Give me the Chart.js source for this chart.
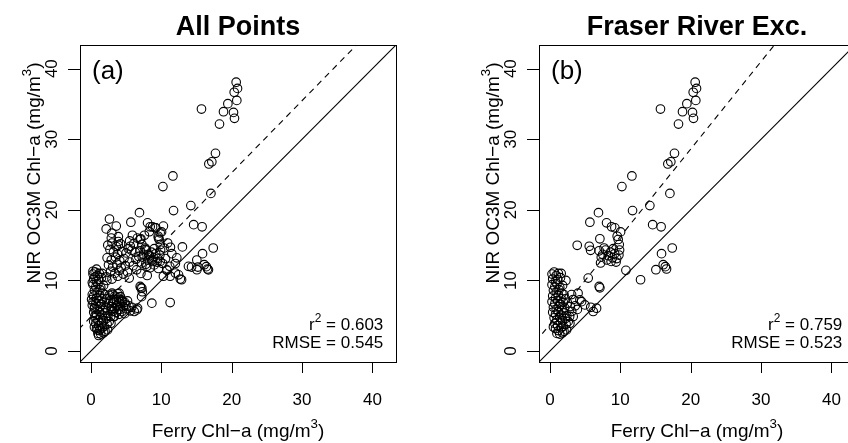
<!DOCTYPE html>
<html>
<head>
<meta charset="utf-8">
<script src="https://cdn.jsdelivr.net/npm/chart.js@4.4.1/dist/chart.umd.min.js"></script>
<style>
  html, body { margin: 0; padding: 0; background: #fff; overflow: hidden; }
  #wrap { position: relative; width: 848px; height: 443px; overflow: hidden; }
  .panel { position: absolute; top: 0; width: 459px; height: 443px; }
</style>
</head>
<body>
<div id="wrap">
  <div class="panel" style="left:0"><canvas id="chartA" width="459" height="443"></canvas></div>
  <div class="panel" style="left:459px"><canvas id="chartB" width="459" height="443"></canvas></div>
</div>
<script>
// points outside the Fraser River plume (shown in both panels)
let otherX = [
  15.71, 20.64, 20.83, 20.36, 20.73, 19.46, 18.84, 20.26, 20.4, 18.27, 17.7, 17.18, 16.76,
  11.65, 10.23, 17.05, 14.2, 11.74, 6.9, 14.6, 15.8, 5.68, 8.05, 8.76, 9.23, 10.04, 9.56,
  9.7, 9.85, 7.1, 3.88, 5.59, 5.78,
  7.0, 7.5, 7.9, 8.3, 8.6, 8.9, 9.2, 9.5, 9.8, 9.9, 7.3, 8.1, 8.7, 9.4, 9.0, 7.7,
  7.2, 5.44, 7.0, 7.1, 10.8, 12.88, 15.06, 16.1, 16.57, 16.4, 15.86, 17.38,
  0.3, 0.6, 0.9, 1.2, 0.4, 0.8, 1.1, 1.5, 0.3, 0.7, 1.0, 1.4, 0.5, 0.9, 1.3, 1.7,
  0.4, 0.8, 1.2, 1.6, 0.3, 0.7, 1.1, 1.5, 1.9, 0.5, 0.9, 1.3, 1.7, 2.1, 0.4, 0.8,
  1.2, 1.6, 2.0, 2.4, 0.6, 1.0, 1.4, 1.8, 2.2, 2.6, 0.7, 1.1, 1.5, 1.9, 2.3, 0.8,
  1.2, 1.6, 2.0, 1.0, 1.4, 1.8, 0.5, 2.8, 3.1, 2.9, 2.5, 2.2, 2.0, 1.8, 2.27, 1.6,
  3.08, 4.26, 4.5, 4.97, 5.8, 6.15, 6.63, 3.31, 2.84, 2.37, 3.6, 3.9, 3.3, 4.0
];
let otherY = [
  34.28, 38.08, 37.2, 36.66, 35.5, 35.04, 33.9, 33.8, 32.96, 32.15, 28.0, 26.8, 26.5,
  24.8, 23.3, 22.33, 20.6, 19.9, 19.6, 17.9, 17.6, 18.25, 18.16, 17.6, 17.45, 16.88, 16.26,
  15.8, 15.08, 15.9, 14.98, 14.84, 14.27,
  14.2, 13.7, 14.3, 13.5, 14.0, 13.2, 13.8, 13.1, 13.6, 14.3, 13.3, 12.9, 12.7, 12.6, 14.5, 14.6,
  12.47, 10.34, 9.15, 8.95, 11.43, 10.1, 11.52, 12.23, 11.62, 11.95, 13.8, 14.6,
  10.9, 11.2, 10.7, 11.0, 10.2, 9.8, 10.1, 10.4, 9.4, 9.1, 9.5, 9.0, 8.6, 8.3, 8.7, 8.2,
  7.8, 7.5, 7.9, 7.4, 7.0, 6.7, 7.1, 6.6, 6.9, 6.2, 5.9, 6.3, 5.8, 6.1, 5.5, 5.2,
  5.6, 5.1, 5.4, 5.0, 4.7, 4.4, 4.8, 4.3, 4.6, 4.2, 3.9, 3.6, 4.0, 3.5, 3.8, 3.2,
  2.9, 3.3, 2.8, 2.5, 2.4, 2.6, 3.4, 4.9, 5.6, 6.3, 6.8, 7.4, 8.0, 9.3, 10.0, 11.0,
  8.0, 7.25, 7.0, 6.54, 6.2, 5.6, 6.07, 4.88, 3.94, 3.0, 6.4, 5.9, 7.3, 8.2
];

// Fraser River points (only in "All Points")
let fraserX = [
  2.64, 3.6, 2.17, 2.98, 3.9, 2.7,
  2.4, 3.0, 3.6, 4.2, 3.2, 3.8, 4.4, 5.0, 2.3, 2.9, 3.5, 4.1, 4.7, 2.5, 3.1, 3.7, 4.3,
  4.9, 2.8, 3.4, 4.0, 4.6, 5.2, 2.2, 3.0, 3.8, 5.5, 5.3, 2.9, 3.9,
  5.5, 6.1, 6.6, 7.0, 7.6, 8.3, 8.42, 9.13, 10.3, 9.84, 9.6, 7.24, 7.7, 8.2, 8.66, 7.95,
  9.84, 10.8, 10.3, 11.26, 11.5, 12.2, 12.7, 12.0, 6.3, 6.8, 7.8, 8.4, 9.0, 9.6, 10.2,
  10.6, 11.2, 6.0, 6.5, 7.1, 8.0, 10.4, 10.9, 6.4, 5.9, 11.3, 12.45, 12.0,
  13.0, 15.05, 13.86, 14.3, 15.2, 16.7,
  2.6, 3.0, 3.4, 3.8, 4.2, 2.8, 3.2, 3.6, 4.0, 4.4, 4.8, 3.0, 3.4, 3.8, 4.2, 4.6, 5.0,
  5.4, 3.6, 4.0, 4.4, 4.8, 5.6, 3.2, 3.9, 2.9, 5.2, 7.24, 7.3, 7.2, 8.66, 11.26, 6.53,
  0.3, 0.6, 0.2, 0.5, 0.9, 1.1, 0.6, 0.2, 0.4, 1.3, 0.1, 0.2, 0.8
];
let fraserY = [
  18.7, 17.7, 17.3, 16.7, 15.5, 14.4,
  15.0, 15.3, 14.8, 15.2, 14.0, 13.7, 14.1, 13.9, 13.2, 12.9, 13.3, 12.8, 13.1, 12.2, 11.9, 12.3, 11.8,
  12.1, 11.3, 11.0, 11.4, 10.9, 11.2, 10.5, 10.2, 10.6, 12.6, 14.5, 16.0, 16.2,
  15.6, 15.2, 16.0, 15.8, 16.4, 16.9, 17.6, 17.45, 17.7, 16.74, 16.0, 15.1, 14.4, 13.7, 12.9, 12.0,
  12.7, 11.5, 10.6, 10.6, 13.8, 13.2, 10.2, 11.05, 14.0, 13.4, 12.3, 11.8, 12.2, 11.7, 12.4,
  13.1, 12.0, 12.1, 11.5, 11.0, 10.7, 14.6, 15.3, 13.0, 16.4, 14.7, 10.8, 12.4,
  14.75, 12.9, 12.0, 11.9, 11.9, 11.5,
  7.9, 8.2, 7.8, 8.1, 7.7, 7.2, 6.9, 7.3, 6.8, 7.2, 6.9, 6.3, 6.0, 6.4, 5.9, 6.3, 6.0,
  6.4, 5.5, 5.2, 5.6, 5.3, 5.7, 4.9, 7.5, 5.8, 7.1, 8.9, 8.4, 7.7, 6.78, 6.87, 5.83,
  11.3, 10.5, 8.0, 6.0, 3.0, 2.2, 5.0, 9.7, 4.2, 3.1, 7.3, 6.5, 11.6
];

// reference lines: 1:1 and fitted (dashed) lines, as two end points each
let lineX = [-5, 50];
let oneToOneY = [-5, 50];
let fitAllY = [-0.24, 55.86];
let fitExcY = [-2.4, 65.8];

let axisMin = -1.55;
let axisMax = 43.35;
let tickValues = [0, 10, 20, 30, 40];

let FONT = "'Liberation Sans', Arial, Helvetica, sans-serif";

function toPoints(xs, ys) {
  return xs.map((x, i) => ({ x: x, y: ys[i] }));
}

function richText(ctx, parts, x, y, size, align) {
  let w = 0;
  for (const [t, sup] of parts) {
    ctx.font = (sup ? size * 0.7 : size) + "px " + FONT;
    w += ctx.measureText(t).width;
  }
  let cx = align == "center" ? x - w / 2 : align == "right" ? x - w : x;
  ctx.textAlign = "left";
  for (const [t, sup] of parts) {
    ctx.font = (sup ? size * 0.7 : size) + "px " + FONT;
    ctx.fillText(t, cx, sup ? y - size * 0.45 : y);
    cx += ctx.measureText(t).width;
  }
}

const rDecor = {
  id: "rDecor",
  afterDraw(chart, args, opts) {
    const ctx = chart.ctx;
    const a = chart.chartArea;
    const xs = chart.scales.x;
    const ys = chart.scales.y;
    ctx.save();
    ctx.strokeStyle = "#000";
    ctx.fillStyle = "#000";
    ctx.lineWidth = 1;
    ctx.setLineDash([]);

    // box
    ctx.strokeRect(Math.round(a.left) + 0.5, Math.round(a.top) + 0.5,
      Math.round(a.right - a.left), Math.round(a.bottom - a.top));

    // tick marks
    ctx.beginPath();
    for (const t of tickValues) {
      let px = Math.round(xs.getPixelForValue(t)) + 0.5;
      ctx.moveTo(px, a.bottom);
      ctx.lineTo(px, a.bottom + 11);
      let py = Math.round(ys.getPixelForValue(t)) + 0.5;
      ctx.moveTo(a.left, py);
      ctx.lineTo(a.left - 12, py);
    }
    ctx.stroke();

    // tick labels
    ctx.font = "17px " + FONT;
    ctx.textAlign = "center";
    ctx.textBaseline = "alphabetic";
    for (const t of tickValues) {
      ctx.fillText(String(t), xs.getPixelForValue(t), a.bottom + 43);
      ctx.save();
      ctx.translate(a.left - 23, ys.getPixelForValue(t));
      ctx.rotate(-Math.PI / 2);
      ctx.fillText(String(t), 0, 0);
      ctx.restore();
    }

    // axis titles
    richText(ctx, [["Ferry Chl\u2212a (mg/m", false], ["3", true], [")", false]],
      (a.left + a.right) / 2, a.bottom + 75, 19, "center");
    ctx.save();
    ctx.translate(a.left - 40, 173);
    ctx.rotate(-Math.PI / 2);
    richText(ctx, [["NIR OC3M Chl\u2212a (mg/m", false], ["3", true], [")", false]],
      0, 0, 19, "center");
    ctx.restore();

    // main title
    ctx.font = "bold 27px " + FONT;
    ctx.textAlign = "center";
    ctx.fillText(opts.title, (a.left + a.right) / 2, 35);

    // panel tag
    ctx.font = "26px " + FONT;
    ctx.textAlign = "left";
    ctx.fillText(opts.tag, a.left + 12, 79);

    // statistics
    richText(ctx, [["r", false], ["2", true], [" = " + opts.r2, false]],
      a.right - 12.7, 330, 17, "right");
    richText(ctx, [["RMSE = " + opts.rmse, false]], a.right - 12.7, 348.3, 17, "right");

    ctx.restore();
  }
};

function makeChart(id, px, py, fitY, deco) {
  return new Chart(document.getElementById(id), {
    type: "scatter",
    data: {
      datasets: [
        {
          data: toPoints(px, py),
          pointStyle: "circle",
          pointRadius: 4.3,
          pointBorderWidth: 1.1,
          pointBorderColor: "#000",
          pointBackgroundColor: "rgba(0,0,0,0)",
        },
        {
          data: toPoints(lineX, oneToOneY),
          showLine: true,
          borderColor: "#000",
          borderWidth: 1.1,
          pointRadius: 0,
        },
        {
          data: toPoints(lineX, fitY),
          showLine: true,
          borderColor: "#000",
          borderWidth: 1.1,
          borderDash: [6, 5],
          pointRadius: 0,
        },
      ],
    },
    options: {
      responsive: false,
      animation: false,
      events: [],
      layout: { padding: { left: 80, top: 45, right: 63, bottom: 81 } },
      scales: {
        x: { type: "linear", display: false, min: axisMin, max: axisMax },
        y: { type: "linear", display: false, min: axisMin, max: axisMax },
      },
      plugins: {
        legend: { display: false },
        tooltip: { enabled: false },
        rDecor: deco,
      },
    },
    plugins: [rDecor],
  });
}

makeChart("chartA", otherX.concat(fraserX), otherY.concat(fraserY), fitAllY,
  { title: "All Points", tag: "(a)", r2: "0.603", rmse: "0.545" });
makeChart("chartB", otherX, otherY, fitExcY,
  { title: "Fraser River Exc.", tag: "(b)", r2: "0.759", rmse: "0.523" });
</script>
</body>
</html>
